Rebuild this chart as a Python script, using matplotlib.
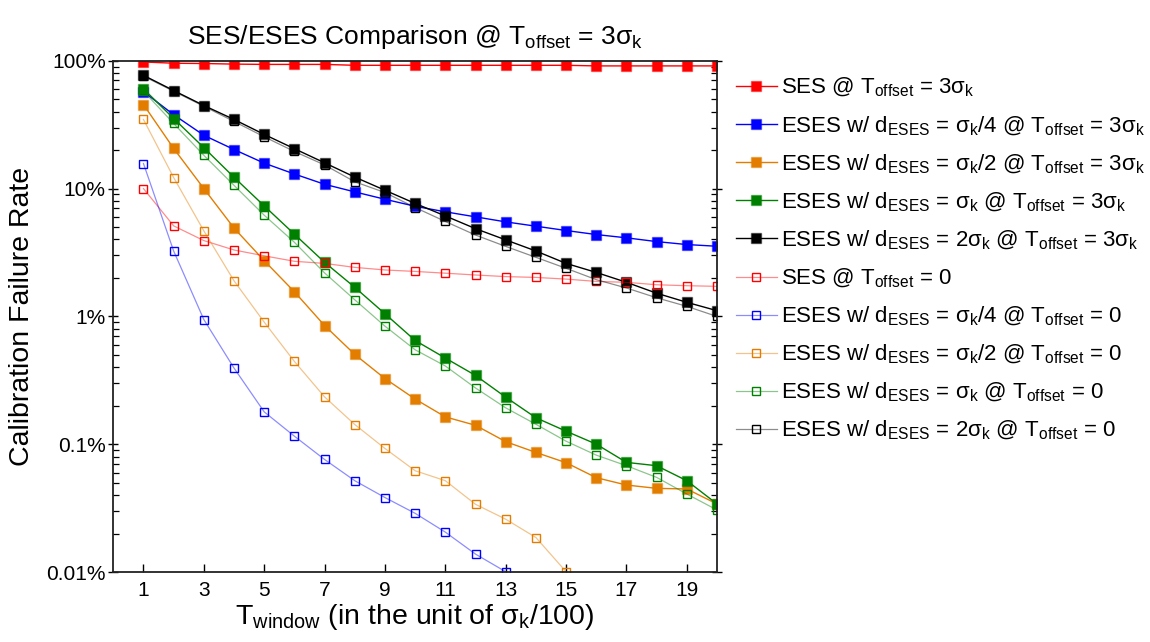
import numpy as np
import matplotlib
matplotlib.use("Agg")
import matplotlib.pyplot as plt
from matplotlib.colors import to_rgba
from matplotlib.ticker import FixedLocator, FuncFormatter, LogLocator, NullFormatter

plt.rcParams["font.family"] = ["Liberation Sans", "DejaVu Sans"]
plt.rcParams["mathtext.fontset"] = "custom"
plt.rcParams["mathtext.rm"] = "Liberation Sans"
plt.rcParams["mathtext.it"] = "Liberation Sans:italic"
plt.rcParams["mathtext.sf"] = "Liberation Sans"

# Window length (unit of sigma_k / 100)
t_window = list(range(1, 21))

# Calibration failure rate in percent, T_offset = 3 sigma_k
ses_3s = [97.7, 95.5, 95.0, 94.0, 93.5, 93.5, 93.5, 92.0, 92.0, 92.0,
          92.0, 92.0, 92.0, 92.0, 92.0, 91.0, 91.0, 91.0, 91.0, 91.0]
eses_q_3s = [57.3, 37.8, 26.1, 20.2, 15.8, 13.0, 10.8, 9.42, 8.25, 7.27,
             6.58, 6.01, 5.49, 5.08, 4.70, 4.37, 4.12, 3.85, 3.65, 3.54]
eses_h_3s = [45.4, 20.6, 10.0, 4.91, 2.73, 1.56, 0.849, 0.505, 0.327, 0.226,
             0.164, 0.141, 0.105, 0.0865, 0.0719, 0.0549, 0.0481, 0.0453, 0.0448, 0.0342]
eses_1_3s = [60.2, 35.3, 20.9, 12.25, 7.32, 4.40, 2.65, 1.69, 1.05, 0.649,
             0.473, 0.346, 0.234, 0.1615, 0.1268, 0.1004, 0.0723, 0.0681, 0.0520, 0.0342]
eses_2_3s = [76.8, 58.4, 44.6, 34.7, 26.5, 20.5, 15.9, 12.3, 9.70, 7.65,
             6.11, 4.86, 3.97, 3.25, 2.60, 2.21, 1.85, 1.52, 1.29, 1.11]

# Calibration failure rate in percent, T_offset = 0
ses_0 = [10.0, 5.11, 3.92, 3.31, 2.98, 2.70, 2.60, 2.42, 2.31, 2.25,
         2.18, 2.11, 2.05, 2.02, 1.96, 1.88, 1.85, 1.77, 1.74, 1.72]
eses_q_0 = [15.7, 3.25, 0.946, 0.395, 0.1795, 0.1159, 0.0762, 0.0520, 0.0384, 0.0289,
            0.0206, 0.01387, 0.0101]
eses_h_0 = [34.7, 12.2, 4.67, 1.90, 0.903, 0.445, 0.235, 0.143, 0.0929, 0.0622,
            0.0520, 0.0340, 0.0260, 0.0187, 0.0101]
eses_1_0 = [57.7, 32.3, 18.2, 10.6, 6.19, 3.80, 2.19, 1.35, 0.840, 0.549,
            0.410, 0.276, 0.193, 0.1436, 0.1059, 0.0824, 0.0681, 0.0552, 0.0409, 0.0307]
eses_2_0 = [75.7, 57.7, 44.0, 33.5, 25.4, 19.5, 15.3, 11.3, 9.31, 7.11,
            5.53, 4.33, 3.53, 2.90, 2.38, 1.94, 1.67, 1.40, 1.20, 1.00]

y_ticks = [0.01, 0.1, 1, 10, 100]
x_ticks = list(range(1, 20, 2))

RED, BLUE, ORANGE, GREEN, BLACK = "#ff0000", "#0000ff", "#e37d00", "#008000", "#000000"

filled = [
    (ses_3s, RED, r"SES @ T$_{\mathrm{offset}}$ = 3σ$_{\mathrm{k}}$"),
    (eses_q_3s, BLUE, r"ESES w/ d$_{\mathrm{ESES}}$ = σ$_{\mathrm{k}}$/4 @ T$_{\mathrm{offset}}$ = 3σ$_{\mathrm{k}}$"),
    (eses_h_3s, ORANGE, r"ESES w/ d$_{\mathrm{ESES}}$ = σ$_{\mathrm{k}}$/2 @ T$_{\mathrm{offset}}$ = 3σ$_{\mathrm{k}}$"),
    (eses_1_3s, GREEN, r"ESES w/ d$_{\mathrm{ESES}}$ = σ$_{\mathrm{k}}$ @ T$_{\mathrm{offset}}$ = 3σ$_{\mathrm{k}}$"),
    (eses_2_3s, BLACK, r"ESES w/ d$_{\mathrm{ESES}}$ = 2σ$_{\mathrm{k}}$ @ T$_{\mathrm{offset}}$ = 3σ$_{\mathrm{k}}$"),
]
hollow = [
    (ses_0, RED, r"SES @ T$_{\mathrm{offset}}$ = 0"),
    (eses_q_0, BLUE, r"ESES w/ d$_{\mathrm{ESES}}$ = σ$_{\mathrm{k}}$/4 @ T$_{\mathrm{offset}}$ = 0"),
    (eses_h_0, ORANGE, r"ESES w/ d$_{\mathrm{ESES}}$ = σ$_{\mathrm{k}}$/2 @ T$_{\mathrm{offset}}$ = 0"),
    (eses_1_0, GREEN, r"ESES w/ d$_{\mathrm{ESES}}$ = σ$_{\mathrm{k}}$ @ T$_{\mathrm{offset}}$ = 0"),
    (eses_2_0, BLACK, r"ESES w/ d$_{\mathrm{ESES}}$ = 2σ$_{\mathrm{k}}$ @ T$_{\mathrm{offset}}$ = 0"),
]

fig = plt.figure(figsize=(11.5, 6.42), dpi=100)
ax = fig.add_axes([0.0985, 0.1086, 0.525, 0.7969])

for vals, c, lab in filled:
    ax.plot(t_window[:len(vals)], vals, color=c, lw=1.0, marker="s", ms=7,
            mfc=c, mec=to_rgba(c, 0.45), mew=1.0, label=lab)
for vals, c, lab in hollow:
    ax.plot(t_window[:len(vals)], vals, color=to_rgba(c, 0.45), lw=0.9, marker="s", ms=6.2,
            mfc="none", mec=c, mew=1.0, label=lab)

ax.set_yscale("log")
ax.set_ylim(0.01, 100)
ax.set_xlim(0, 20)
ax.yaxis.set_major_locator(FixedLocator(y_ticks))
ax.yaxis.set_major_formatter(FuncFormatter(lambda v, p: f"{v:g}%"))
ax.yaxis.set_minor_locator(LogLocator(base=10, subs=np.arange(2, 10)))
ax.yaxis.set_minor_formatter(NullFormatter())
ax.xaxis.set_major_locator(FixedLocator(x_ticks))

ax.tick_params(axis="y", which="major", direction="inout", length=7, width=1.0,
               labelsize=15, right=True, pad=2)
ax.tick_params(axis="y", which="minor", direction="in", length=4, width=0.9, right=True)
ax.tick_params(axis="x", which="major", direction="in", length=6, width=1.0,
               labelsize=15, pad=6, top=False)
for s in ax.spines.values():
    s.set_linewidth(1.3)
    s.set_color("#222222")

ax.set_title(r"SES/ESES Comparison @ T$_{\mathrm{offset}}$ = 3σ$_{\mathrm{k}}$", fontsize=19, pad=12)
ax.set_xlabel(r"T$_{\mathrm{window}}$ (in the unit of σ$_{\mathrm{k}}$/100)", fontsize=20.5, labelpad=2)
ax.set_ylabel("Calibration Failure Rate", fontsize=20.5, labelpad=8)

fig.legend(loc="upper left", bbox_to_anchor=(0.632, 0.895), frameon=False, fontsize=16,
           handlelength=1.85, handletextpad=0.2, labelspacing=0.67, borderaxespad=0)

fig.savefig("out.png", dpi=100)
